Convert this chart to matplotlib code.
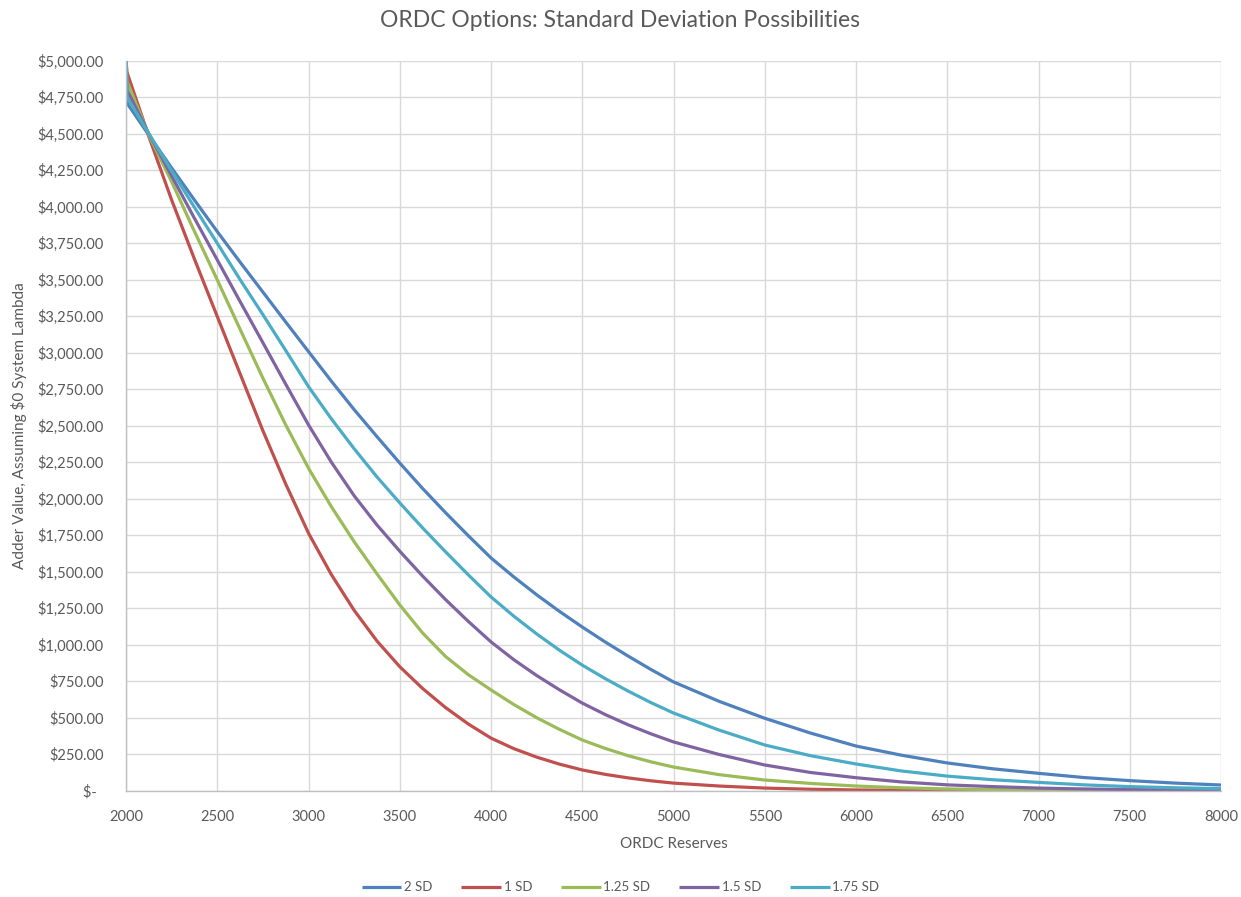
import matplotlib
matplotlib.use("Agg")
import matplotlib.pyplot as plt
from matplotlib.ticker import FuncFormatter, MultipleLocator

plt.rcParams['font.family'] = ['Lato', 'DejaVu Sans']

# ORDC reserve levels (MW); first point is the $5,000 cap at 2000 MW
reserves = [2000, 2005,
            2125, 2250, 2375, 2500, 2625, 2750, 2875, 3000,
            3125, 3250, 3375, 3500, 3625, 3750, 3875, 4000,
            4125, 4250, 4375, 4500, 4625, 4750, 4875, 5000,
            5250, 5500, 5750, 6000, 6250, 6500, 6750, 7000,
            7250, 7500, 7750, 8000]

sd_2_00 = [5000, 4710,
           4490, 4265, 4045, 3829, 3620, 3415, 3210, 3007,
           2805, 2610, 2425, 2244, 2070, 1905, 1747, 1594,
           1464, 1342, 1228, 1121, 1019, 923, 831, 745,
           612, 496, 395, 306, 243, 190, 150, 119,
           90, 69, 52, 39]
sd_1_00 = [5000, 4920,
           4480, 4045, 3640, 3247, 2855, 2465, 2100, 1763,
           1480, 1235, 1025, 849, 700, 570, 457, 360,
           288, 230, 182, 142, 112, 88, 68, 52,
           32, 18, 10, 5, 3, 2, 1, 0.5,
           0, 0, 0, 0]
sd_1_25 = [5000, 4860,
           4490, 4170, 3830, 3498, 3160, 2825, 2505, 2208,
           1945, 1705, 1485, 1272, 1080, 920, 795, 690,
           590, 500, 420, 347, 290, 240, 198, 162,
           110, 73, 50, 32, 20, 12, 8, 5,
           3, 2, 1, 1]
sd_1_50 = [5000, 4800,
           4500, 4210, 3920, 3635, 3350, 3068, 2784, 2505,
           2250, 2020, 1820, 1640, 1470, 1310, 1160, 1019,
           897, 789, 691, 600, 522, 452, 390, 334,
           248, 176, 125, 89, 60, 40, 28, 18,
           12, 8, 5, 3]
sd_1_75 = [5000, 4750,
           4500, 4245, 3995, 3749, 3500, 3260, 3015, 2767,
           2547, 2342, 2149, 1971, 1800, 1637, 1479, 1327,
           1195, 1074, 962, 860, 768, 683, 604, 532,
           415, 313, 240, 183, 135, 100, 75, 57,
           40, 28, 20, 14]

series = [
    ("2 SD", sd_2_00, "#4F81BD"),
    ("1 SD", sd_1_00, "#C0504D"),
    ("1.25 SD", sd_1_25, "#9BBB59"),
    ("1.5 SD", sd_1_50, "#8064A2"),
    ("1.75 SD", sd_1_75, "#4BACC6"),
]

fig = plt.figure(figsize=(12.41, 8.97), dpi=100)
ax = fig.add_axes([0.1016, 0.1185, 0.8823, 0.8138])

for name, vals, color in series:
    ax.plot(reserves, vals, color=color, lw=2.3, label=name,
            solid_joinstyle='round', solid_capstyle='butt')

ax.set_xlim(2000, 8000)
ax.set_ylim(0, 5000)
ax.xaxis.set_major_locator(MultipleLocator(500))
ax.yaxis.set_major_locator(MultipleLocator(250))


def money(v, _pos):
    if abs(v) < 1e-9:
        return "$-  "
    return "${:,.2f}".format(v)


ax.yaxis.set_major_formatter(FuncFormatter(money))
ax.xaxis.set_major_formatter(FuncFormatter(lambda v, p: "{:d}".format(int(round(v)))))

ax.grid(True, color="#D9D9D9", lw=1.0)
ax.set_axisbelow(True)
for side in ["top", "right"]:
    ax.spines[side].set_visible(False)
for side in ["left", "bottom"]:
    ax.spines[side].set_color("#BFBFBF")
    ax.spines[side].set_linewidth(1.0)

ax.tick_params(axis='both', length=0, labelsize=10.5, colors="#595959")
ax.tick_params(axis='y', pad=16)
ax.tick_params(axis='x', pad=14)

fig.text(0.5, 0.977, "ORDC Options: Standard Deviation Possibilities",
         ha="center", va="center", fontsize=16.5, color="#595959")
ax.set_xlabel("ORDC Reserves", fontsize=11, color="#595959", labelpad=9)
ax.set_ylabel("Adder Value, Assuming $0 System Lambda", fontsize=11,
              color="#595959", labelpad=8)

leg = fig.legend(loc="center", bbox_to_anchor=(0.5, 0.011), ncol=5,
                 frameon=False, fontsize=9.5, handlelength=3.0,
                 handletextpad=0.2, columnspacing=2.2)
for t in leg.get_texts():
    t.set_color("#595959")

fig.savefig("out.png", dpi=100, facecolor="white")
